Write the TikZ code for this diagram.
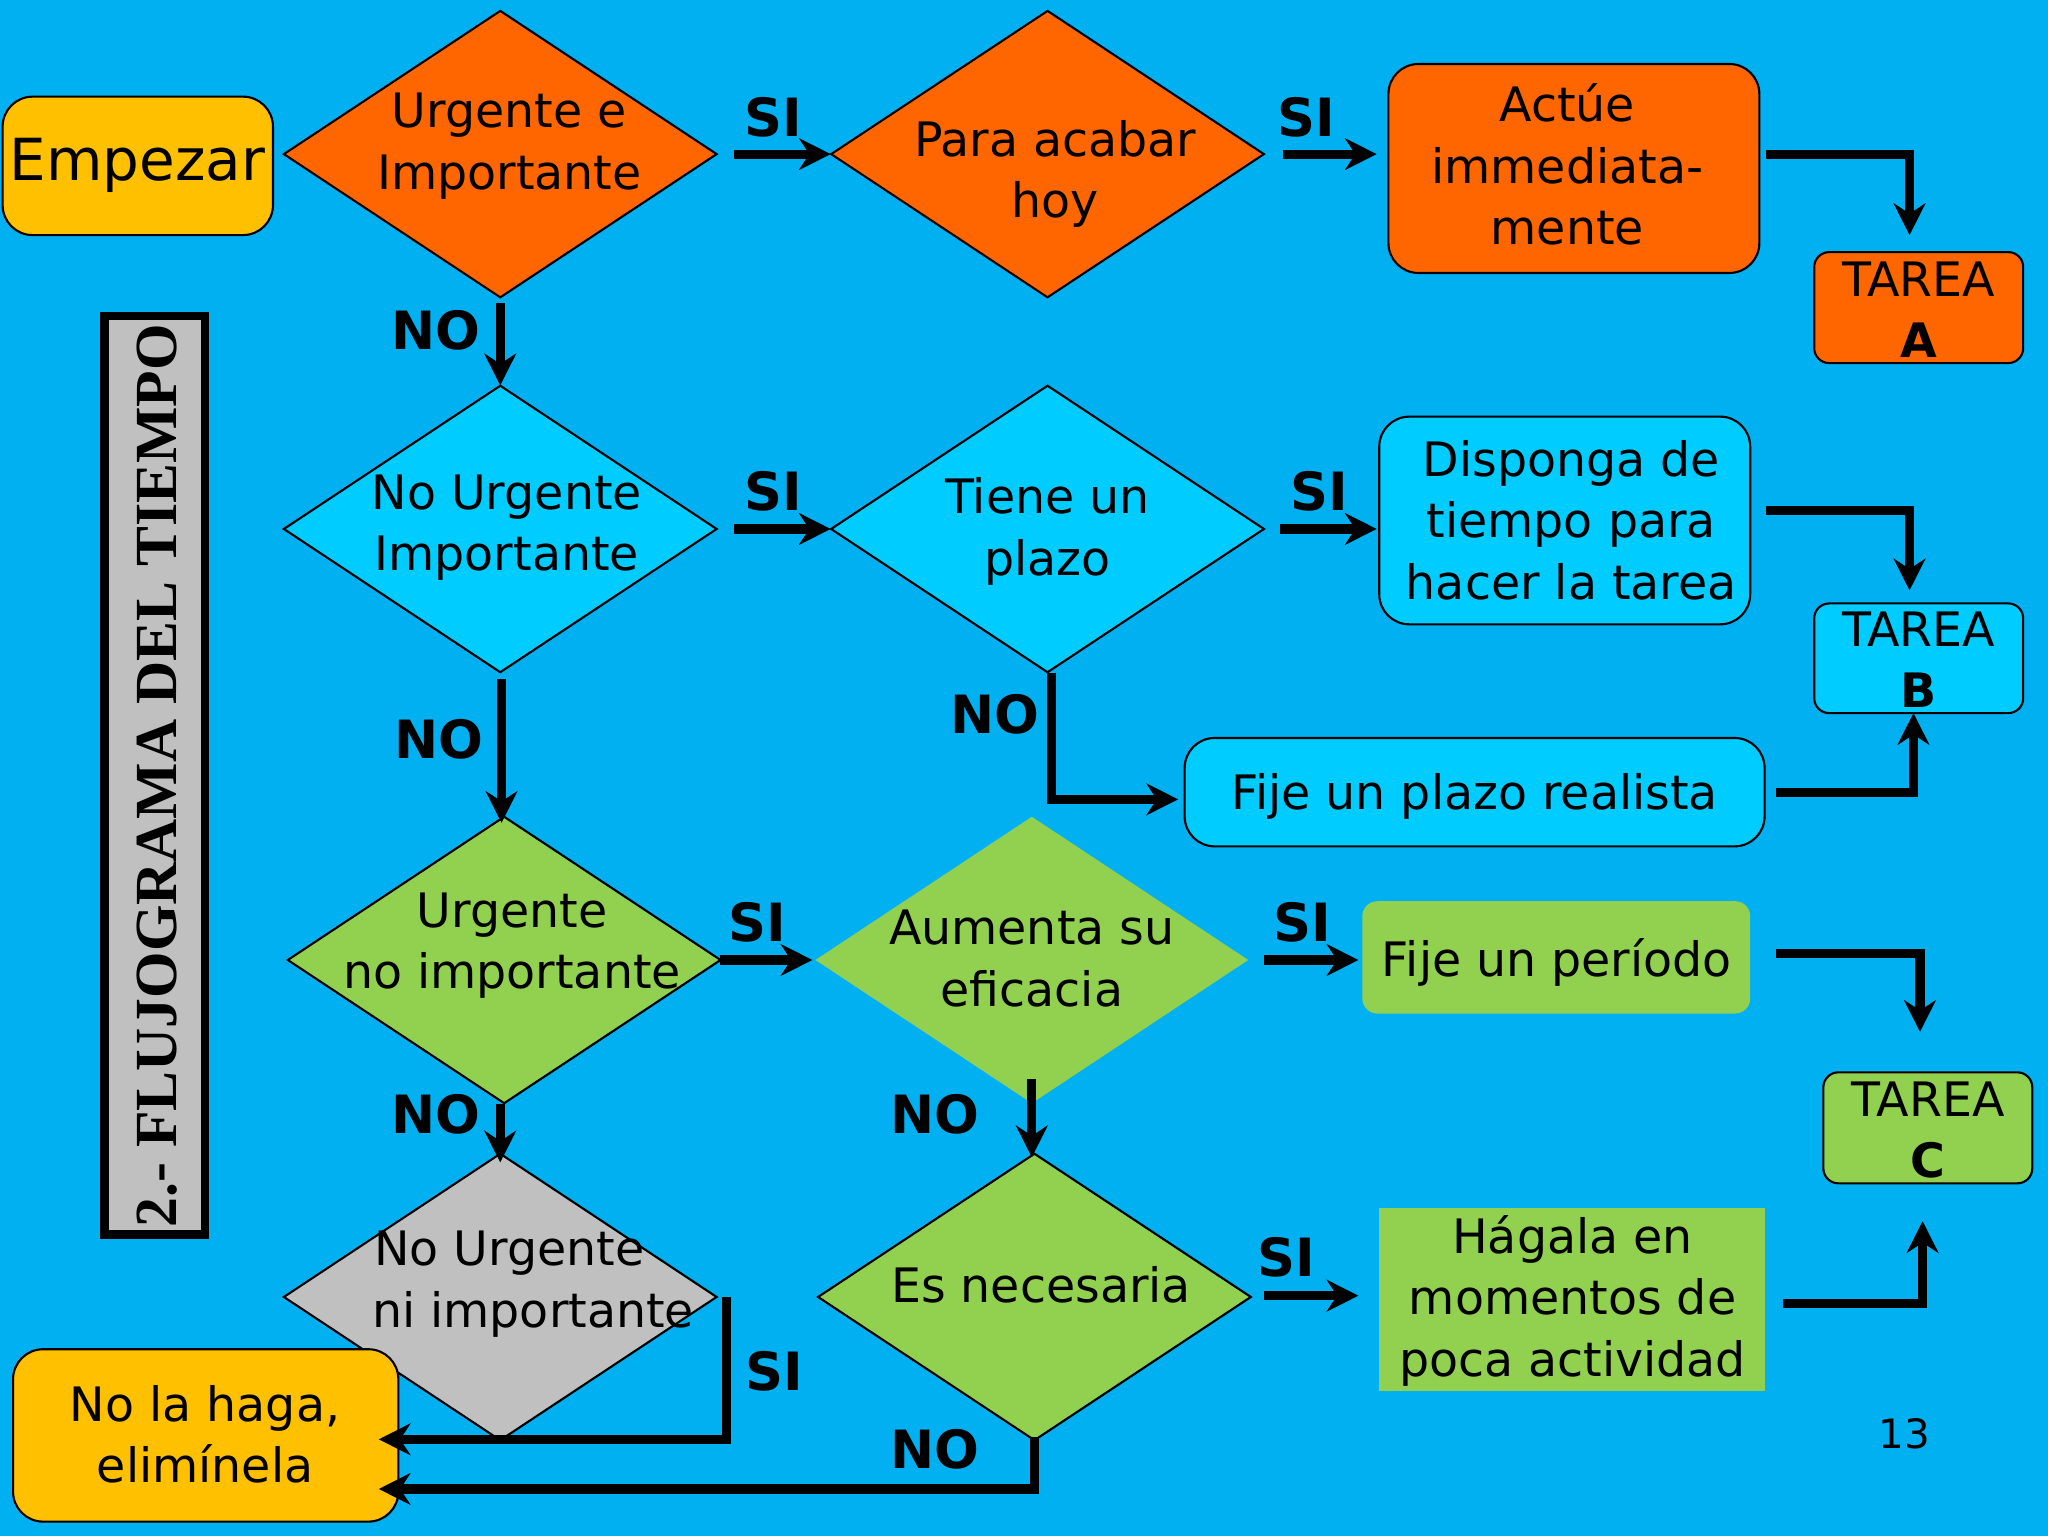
\documentclass[tikz,border=0pt]{standalone}
\usepackage{fontspec}
\setmainfont{DejaVu Sans}
\newfontfamily\titlefont{Liberation Serif}
\usetikzlibrary{shapes.geometric,arrows.meta}
\definecolor{bgc}{RGB}{0,176,240}
\definecolor{orng}{RGB}{255,102,0}
\definecolor{cyn}{RGB}{0,204,255}
\definecolor{grn}{RGB}{146,208,80}
\definecolor{gry}{RGB}{192,192,192}
\definecolor{ylw}{RGB}{255,192,0}
\tikzset{
  dia/.style={diamond,draw=black,line width=0.6pt,inner sep=0pt,minimum width=332*0.013061cm,minimum height=220*0.013061cm},
  txt/.style={align=center,font=\fontsize{13.5}{17.5}\selectfont},
  box/.style={draw=black,line width=0.6pt,rounded corners=0.3cm},
  arr/.style={line width=2.6pt,-{Stealth[length=9pt,width=9pt]}},
  lbl/.style={font=\bfseries\fontsize{15}{18}\selectfont}
}
\begin{document}
\begin{tikzpicture}[x=0.013061cm,y=-0.013061cm]
\fill[bgc] (0,0) rectangle (1568,1176);
\useasboundingbox (0,0) rectangle (1568,1176);
% boxes
\draw[box,fill=ylw] (2,74) rectangle (209,180);
\node[txt,font=\fontsize{16.5}{20}\selectfont] (emp) at (105,127) {Empezar};
\node[dia,fill=orng] (d1) at (383,118) {};
\node[txt] (t1) at (390,112) {Urgente e\\Importante};
\node[dia,fill=orng] (d2) at (802,118) {};
\node[txt] (t2) at (808,133) {Para acabar\\hoy};
\draw[box,fill=orng] (1063,49) rectangle (1347,209);
\node[txt] (act) at (1200,126) {Actúe\\immediata-\\mente};
\draw[box,fill=orng,rounded corners=0.15cm] (1389,193) rectangle (1549,278);
\node[txt] (ta) at (1469,237) {TAREA\\\textbf{A}};
\node[dia,fill=cyn] (d3) at (383,405) {};
\node[txt] (t3) at (388,404) {No Urgente\\Importante};
\node[dia,fill=cyn] (d4) at (802,405) {};
\node[txt] (t4) at (802,407) {Tiene un\\plazo};
\draw[box,fill=cyn] (1056,319) rectangle (1340,478);
\node[txt] (disp) at (1203,398) {Disponga de\\tiempo para\\hacer la tarea};
\draw[box,fill=cyn,rounded corners=0.15cm] (1389,462) rectangle (1549,546);
\node[txt] (tb) at (1469,505) {TAREA\\\textbf{B}};
\draw[box,fill=cyn] (907,565) rectangle (1351,648);
\node[txt] (fp) at (1129,610) {Fije un plazo realista};
\node[dia,fill=grn] (d5) at (386,735) {};
\node[txt] (t5) at (392,724) {Urgente\\no importante};
\node[dia,fill=grn,draw=none] (d6) at (790,735) {};
\node[txt] (t6) at (790,734) {Aumenta su\\eficacia};
\draw[box,fill=grn,draw=none,rounded corners=0.15cm] (1043,690) rectangle (1340,776);
\node[txt] (per) at (1192,737) {Fije un período};
\draw[box,fill=grn,rounded corners=0.15cm] (1396,821) rectangle (1556,906);
\node[txt] (tc) at (1476,865) {TAREA\\\textbf{C}};
\node[dia,fill=gry] (d7) at (383,993) {};
\node[txt] (t7) at (390,983) {No Urgente\\\quad ni importante};
\node[dia,fill=grn] (d8) at (792,993) {};
\node[txt] (t8) at (797,984) {Es necesaria};
\fill[grn] (1056,925) rectangle (1351,1065);
\node[txt] (hag) at (1204,996) {Hágala en\\momentos de\\poca actividad};
\draw[box,fill=ylw] (10,1033) rectangle (305,1165);
\node[txt] (nol) at (157,1098) {No la haga,\\elimínela};
\draw[fill=gry,draw=black,line width=2.5pt] (80,242) rectangle (157,945);
\node[rotate=90,font=\titlefont\bfseries\fontsize{17}{20}\selectfont] (title) at (120,594) {2.- FLUJOGRAMA DEL TIEMPO};
\node[font=\fontsize{11.5}{14}\selectfont] (pg) at (1458,1098) {13};
% arrows
\draw[arr] (562,118) -- (636,118);
\node[lbl] at (592,90) {SI};
\draw[arr] (982,118) -- (1054,118);
\node[lbl] at (1000,90) {SI};
\draw[arr] (1352,118) -| (1462,180);
\draw[arr] (383,232) -- (383,295);
\node[lbl] at (334,253) {NO};
\draw[arr] (562,405) -- (636,405);
\node[lbl] at (592,376) {SI};
\draw[arr] (980,405) -- (1054,405);
\node[lbl] at (1010,376) {SI};
\draw[arr] (1352,391) -| (1462,452);
\draw[arr] (805,515) |- (902,612);
\node[lbl] at (762,547) {NO};
\draw[arr] (1360,607) -| (1465,546);
\draw[arr] (384,520) -- (384,630);
\node[lbl] at (336,566) {NO};
\draw[arr] (551,735) -- (622,735);
\node[lbl] at (580,706) {SI};
\draw[arr] (968,735) -- (1040,735);
\node[lbl] at (997,706) {SI};
\draw[arr] (1360,730) -| (1470,790);
\draw[arr] (383,845) -- (383,890);
\node[lbl] at (334,853) {NO};
\draw[arr] (790,826) -- (790,886);
\node[lbl] at (716,853) {NO};
\draw[arr] (968,992) -- (1040,992);
\node[lbl] at (985,963) {SI};
\draw[arr] (1365,998) -| (1472,935);
\draw[arr] (556,993) |- (290,1102);
\node[lbl] at (593,1050) {SI};
\draw[arr] (792,1100) |- (290,1140);
\node[lbl] at (716,1110) {NO};
\end{tikzpicture}
\end{document}
